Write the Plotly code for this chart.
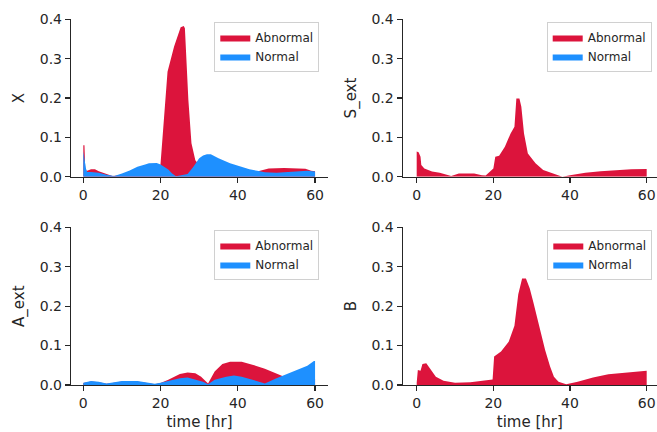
import plotly.graph_objects as go

# ---------------- data ----------------
t_x_abn = [0, 0.3, 0.5, 1, 2, 3, 4, 6, 7.5, 10, 14, 18, 19.8, 20, 20.9, 21.8, 23.5, 25.2, 26, 26.3, 27.2, 28, 29, 30, 33, 37, 41, 45, 47, 48, 52, 56, 57.5, 59, 60]
x_abn = [0.080, 0.080, 0.016, 0.015, 0.019, 0.019, 0.014, 0.008, 0.002, 0.004, 0.008, 0.012, 0.014, 0.034, 0.15, 0.267, 0.331, 0.380, 0.383, 0.377, 0.195, 0.085, 0.042, 0.030, 0.025, 0.020, 0.015, 0.013, 0.018, 0.021, 0.022, 0.021, 0.020, 0.015, 0.014]
t_x_norm = [0, 0.3, 0.7, 1, 2, 4, 6, 8, 10, 12, 14, 16, 17, 19, 20, 22, 23, 24, 25, 27, 28.5, 30, 31, 32, 33, 34, 35, 38, 40, 43, 45, 47, 50, 55, 58, 60]
x_norm = [0.064, 0.040, 0.020, 0.012, 0.012, 0.010, 0.005, 0.002, 0.008, 0.016, 0.025, 0.031, 0.034, 0.035, 0.031, 0.018, 0.008, 0.001, 0.003, 0.007, 0.025, 0.047, 0.054, 0.057, 0.057, 0.053, 0.047, 0.034, 0.028, 0.019, 0.015, 0.011, 0.010, 0.012, 0.015, 0.013]

t_s_abn = [0, 0.5, 1, 1.2, 2, 4, 6, 8, 9, 11, 15, 17, 18, 20, 20.5, 21.5, 23, 24.5, 25.5, 26, 26.8, 27.3, 28, 29, 31, 33, 36, 38, 40, 44, 48, 52, 56, 60]
s_abn = [0.064, 0.062, 0.051, 0.030, 0.021, 0.013, 0.010, 0.004, 0.002, 0.008, 0.008, 0.004, 0.003, 0.021, 0.051, 0.053, 0.076, 0.110, 0.127, 0.199, 0.199, 0.178, 0.110, 0.059, 0.034, 0.017, 0.006, 0.000, 0.004, 0.010, 0.014, 0.017, 0.019, 0.0195]
t_s_norm = [0, 60]
s_norm = [0.0, 0.0]

t_a_abn = [0, 2, 4, 6, 8, 10, 14, 17, 18.5, 20, 22, 25, 27, 29, 30.5, 32.3, 34, 36, 38, 41, 44, 47, 50.5, 52, 56, 60]
a_abn = [0.005, 0.009, 0.007, 0.003, 0.006, 0.009, 0.009, 0.005, 0.002, 0.005, 0.013, 0.028, 0.032, 0.030, 0.021, 0.004, 0.034, 0.053, 0.059, 0.059, 0.051, 0.041, 0.027, 0.021, 0.018, 0.016]
t_a_norm = [0, 2, 4, 6, 8, 10, 14, 17, 18.5, 20, 22, 25, 27, 29, 31, 32.3, 34, 37, 39, 41, 44, 47, 50, 54, 58, 59.7, 60]
a_norm = [0.006, 0.010, 0.008, 0.004, 0.007, 0.010, 0.010, 0.006, 0.003, 0.006, 0.011, 0.017, 0.019, 0.014, 0.008, 0.002, 0.013, 0.021, 0.024, 0.021, 0.013, 0.004, 0.017, 0.032, 0.049, 0.061, 0.061]

t_b_abn = [0, 0.3, 1, 1.5, 2.5, 3.5, 5, 7, 10, 14, 17, 19.8, 20.2, 22, 24, 25.5, 26.5, 27.5, 28.5, 29.5, 30.4, 32, 33.5, 34.8, 35.8, 37, 38.3, 39, 42, 46, 50, 55, 60]
b_abn = [0.006, 0.038, 0.036, 0.053, 0.055, 0.042, 0.021, 0.011, 0.006, 0.007, 0.011, 0.014, 0.072, 0.085, 0.110, 0.150, 0.230, 0.270, 0.270, 0.245, 0.211, 0.148, 0.089, 0.047, 0.021, 0.008, 0.003, 0.002, 0.008, 0.019, 0.027, 0.032, 0.036]
t_b_norm = [0, 60]
b_norm = [0.0, 0.0]

panel_labels = ["X", "S_ext", "A_ext", "B"]
x_ticks = [0, 20, 40, 60]
y_ticks = [0.0, 0.1, 0.2, 0.3, 0.4]

RED = "#DC143C"
BLUE = "#1E90FF"
INK = "#262626"
W, H = 657, 432

panels = [
    (t_x_abn, x_abn, t_x_norm, x_norm),
    (t_s_abn, s_abn, t_s_norm, s_norm),
    (t_a_abn, a_abn, t_a_norm, a_norm),
    (t_b_abn, b_abn, t_b_norm, b_norm),
]

# pixel geometry of each axes box: (left, right, top, bottom)
boxes = [
    (71, 328, 19.3, 176.7),
    (402.7, 657, 19.3, 176.7),
    (71, 328, 227.3, 385),
    (402.7, 657, 227.3, 385),
]
xranges = [[-3.19, 63.35], [-3.65, 62.69], [-3.19, 63.35], [-3.65, 62.69]]
legend_pos = [(214.3, 22), (546.7, 22), (214.3, 230), (547.3, 230)]

fig = go.Figure()
layout = {}
for i, (ta, ya, tn, yn) in enumerate(panels):
    n = "" if i == 0 else str(i + 1)
    lg = "legend" if i == 0 else f"legend{i + 1}"
    fig.add_trace(go.Scatter(x=ta, y=ya, mode="lines", fill="tozeroy",
                             fillcolor=RED, line=dict(width=0, color=RED),
                             name="Abnormal", legend=lg,
                             xaxis="x" + n, yaxis="y" + n))
    fig.add_trace(go.Scatter(x=tn, y=yn, mode="lines", fill="tozeroy",
                             fillcolor=BLUE, line=dict(width=0, color=BLUE),
                             name="Normal", legend=lg,
                             xaxis="x" + n, yaxis="y" + n))
    l, r, t, b = boxes[i]
    axcommon = dict(showline=True, linecolor=INK, linewidth=1.2, ticks="outside",
                    ticklen=5, tickwidth=1.2, tickcolor=INK, showgrid=False,
                    zeroline=False, automargin=False,
                    tickfont=dict(family="DejaVu Sans", size=14, color=INK))
    layout["xaxis" + n] = dict(axcommon, domain=[l / W, r / W], range=xranges[i],
                               tickvals=x_ticks, anchor="y" + n,
                               title=dict(text="time [hr]" if i >= 2 else "",
                                          font=dict(family="DejaVu Sans", size=15, color=INK),
                                          standoff=6))
    layout["yaxis" + n] = dict(axcommon, domain=[1 - b / H, 1 - t / H], range=[0, 0.4],
                               tickvals=y_ticks, tickformat=".1f", anchor="x" + n,
                               title=dict(text=panel_labels[i],
                                          font=dict(family="DejaVu Sans", size=15, color=INK),
                                          standoff=11))
    lx, ly = legend_pos[i]
    layout[lg] = dict(x=lx / W, y=1 - ly / H, xanchor="left", yanchor="top",
                      bgcolor="rgba(255,255,255,0.85)", bordercolor="#d0d0d0", borderwidth=1,
                      font=dict(family="DejaVu Sans", size=12, color=INK),
                      tracegroupgap=0)

fig.update_layout(width=W, height=H, margin=dict(l=0, r=0, t=0, b=0),
                  plot_bgcolor="white", paper_bgcolor="white", hovermode=False, **layout)

fig.write_html("out.html", config={"displayModeBar": False, "staticPlot": True},
               post_script="document.body.style.margin='0px';document.body.style.overflow='hidden';")
